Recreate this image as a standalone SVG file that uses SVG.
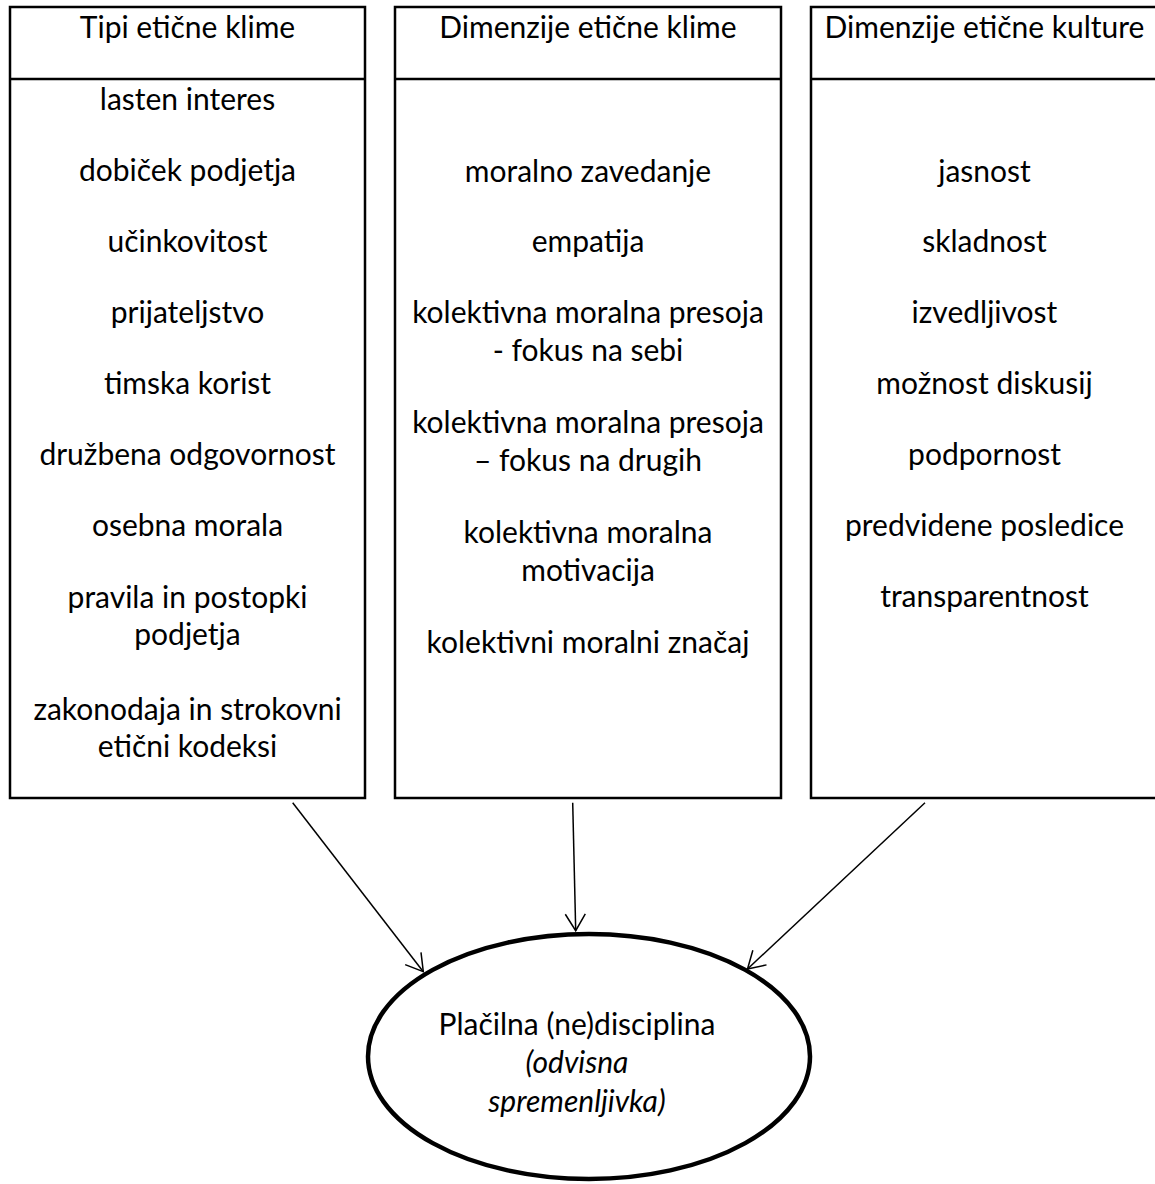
<svg xmlns="http://www.w3.org/2000/svg" width="1155" height="1184" viewBox="0 0 1155 1184">
<style>
.box{fill:#fff;stroke:#000;stroke-width:2.5}
.t{font-family:Lato,"Open Sans","Liberation Sans",sans-serif;font-size:30px;fill:#000;text-anchor:middle}
.i{font-style:italic}
.c{stroke:#000;stroke-width:1.5;fill:none}
</style>
<defs>
<marker id="ah" markerUnits="userSpaceOnUse" viewBox="0 0 20 24" refX="18" refY="12" markerWidth="20" markerHeight="24" orient="auto" overflow="visible">
<path d="M1.3,2 L18,12 L1.3,22" fill="none" stroke="#000" stroke-width="1.5"/>
</marker>
</defs>
<rect width="1155" height="1184" fill="#fff"/>
<g id="tipi">
<rect class="box" x="10" y="7" width="355" height="791"/>
<line class="box" x1="10" y1="79" x2="365" y2="79"/>
<text class="t" x="187.5" y="38">Tipi etične klime</text>
<text class="t" x="187.5" y="110">lasten interes</text>
<text class="t" x="187.5" y="181">dobiček podjetja</text>
<text class="t" x="187.5" y="252">učinkovitost</text>
<text class="t" x="187.5" y="323">prijateljstvo</text>
<text class="t" x="187.5" y="394">timska korist</text>
<text class="t" x="187.5" y="465">družbena odgovornost</text>
<text class="t" x="187.5" y="536">osebna morala</text>
<text class="t" x="187.5" y="608">pravila in postopki</text>
<text class="t" x="187.5" y="645">podjetja</text>
<text class="t" x="187.5" y="720">zakonodaja in strokovni</text>
<text class="t" x="187.5" y="757">etični kodeksi</text>
</g>
<g id="dimenzije-klime">
<rect class="box" x="395" y="7" width="386" height="791"/>
<line class="box" x1="395" y1="79" x2="781" y2="79"/>
<text class="t" x="588" y="38">Dimenzije etične klime</text>
<text class="t" x="588" y="182">moralno zavedanje</text>
<text class="t" x="588" y="252">empatija</text>
<text class="t" x="588" y="323">kolektivna moralna presoja</text>
<text class="t" x="588" y="361">- fokus na sebi</text>
<text class="t" x="588" y="433">kolektivna moralna presoja</text>
<text class="t" x="588" y="471">– fokus na drugih</text>
<text class="t" x="588" y="543">kolektivna moralna</text>
<text class="t" x="588" y="581">motivacija</text>
<text class="t" x="588" y="653">kolektivni moralni značaj</text>
</g>
<g id="dimenzije-kulture">
<rect class="box" x="811" y="7" width="352" height="791"/>
<line class="box" x1="811" y1="79" x2="1163" y2="79"/>
<text class="t" x="984.5" y="38">Dimenzije etične kulture</text>
<text class="t" x="984.5" y="182">jasnost</text>
<text class="t" x="984.5" y="252">skladnost</text>
<text class="t" x="984.5" y="323">izvedljivost</text>
<text class="t" x="984.5" y="394">možnost diskusij</text>
<text class="t" x="984.5" y="465">podpornost</text>
<text class="t" x="984.5" y="536">predvidene posledice</text>
<text class="t" x="984.5" y="607">transparentnost</text>
</g>
<g id="placilna">
<ellipse cx="589" cy="1056.5" rx="221" ry="122.5" fill="#fff" stroke="#000" stroke-width="4.5"/>
<text class="t" x="577" y="1035">Plačilna (ne)disciplina</text>
<text class="t i" x="577" y="1073">(odvisna</text>
<text class="t i" x="577" y="1112">spremenljivka)</text>
</g>
<g id="connectors">
<line class="c" x1="292.7" y1="802.7" x2="423.3" y2="971.7" marker-end="url(#ah)"/>
<line class="c" x1="572.7" y1="802.7" x2="575.7" y2="930.7" marker-end="url(#ah)"/>
<line class="c" x1="925" y1="802.7" x2="747.5" y2="969" marker-end="url(#ah)"/>
</g>
</svg>
